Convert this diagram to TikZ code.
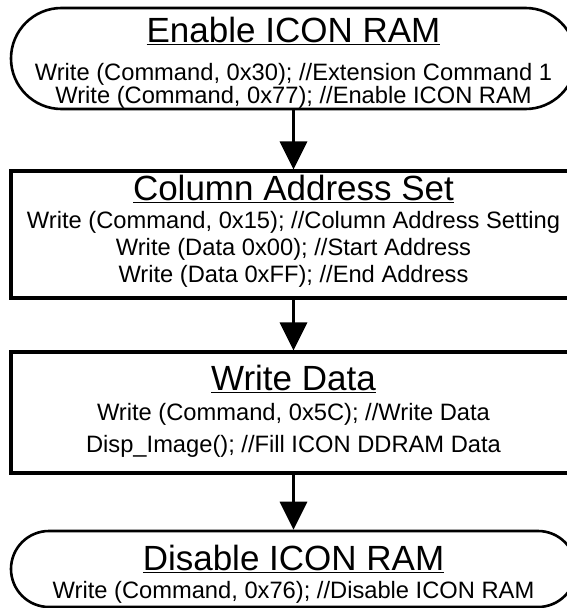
\documentclass[tikz,border=0pt]{standalone}
\usepackage{fontspec}
\setmainfont{Liberation Sans}
\usetikzlibrary{shapes.misc, arrows.meta}

\begin{document}
\begin{tikzpicture}[
  x=1pt, y=-1pt,
  termbox/.style={draw=black, line width=2.6pt, rounded rectangle, minimum width=565pt, inner sep=0pt},
  procbox/.style={draw=black, line width=3.2pt, rectangle, minimum width=565pt, inner sep=0pt},
  headtext/.style={anchor=base, inner sep=0pt, font=\fontsize{35}{40}\selectfont},
  bodytext/.style={anchor=base, inner sep=0pt, font=\fontsize{23.7}{26}\selectfont},
  arrow/.style={-{Triangle[length=28pt, width=27pt]}, draw=black, line width=3.5pt}
]
  \useasboundingbox (0,0) rectangle (567,608);

  \node[termbox, minimum height=101pt] (enable) at (293.5,58.5) {};
  \node[procbox, minimum height=127pt] (colset) at (293.5,234.5) {};
  \node[procbox, minimum height=121pt] (wdata) at (293.5,412.5) {};
  \node[termbox, minimum height=76pt] (disable) at (293.5,569) {};

  \node[headtext] (enableH) at (293.5,42) {\underline{Enable ICON RAM}};
  \node[bodytext] (enableA) at (293.5,80) {Write (Command, 0x30); //Extension Command 1};
  \node[bodytext] (enableB) at (293.5,103) {Write (Command, 0x77); //Enable ICON RAM};

  \node[headtext] (colsetH) at (293.5,200) {\underline{Column Address Set}};
  \node[bodytext] (colsetA) at (293.5,228) {Write (Command, 0x15); //Column Address Setting};
  \node[bodytext] (colsetB) at (293.5,255) {Write (Data 0x00); //Start Address};
  \node[bodytext] (colsetC) at (293.5,282) {Write (Data 0xFF); //End Address};

  \node[headtext] (wdataH) at (293.5,390) {\underline{Write Data}};
  \node[bodytext] (wdataA) at (293.5,420) {Write (Command, 0x5C); //Write Data};
  \node[bodytext] (wdataB) at (293.5,452) {Disp\_Image(); //Fill ICON DDRAM Data};

  \node[headtext] (disableH) at (293.5,570) {\underline{Disable ICON RAM}};
  \node[bodytext] (disableA) at (293.5,598) {Write (Command, 0x76); //Disable ICON RAM};

  \draw[arrow] (enable) -- (colset);
  \draw[arrow] (colset) -- (wdata);
  \draw[arrow] (wdata) -- (disable);
\end{tikzpicture}
\end{document}
